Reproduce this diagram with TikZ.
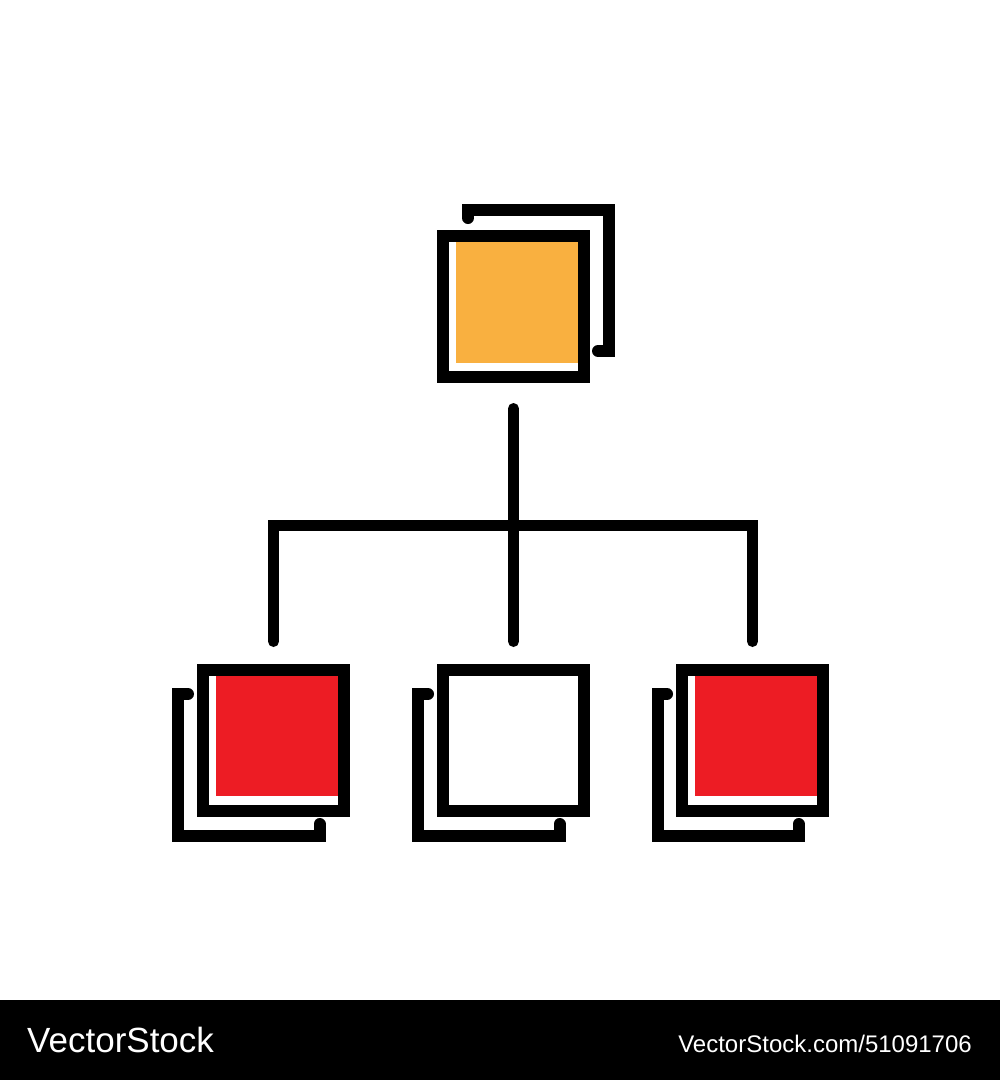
\documentclass[tikz,border=0pt]{standalone}
\usepackage{fontspec}
\usepackage{tikz}
\usetikzlibrary{positioning, calc}
\newfontfamily\stockfont{Liberation Sans}
\definecolor{tileorange}{HTML}{F9B040}
\definecolor{tilered}{HTML}{ED1C24}

\tikzset{
  tile/.style={draw, line width=12pt, minimum size=141pt, inner sep=0pt, outer sep=0pt,
    path picture={\fill[#1] ([xshift=12.5pt,yshift=14.5pt]path picture bounding box.south west)
      rectangle ([xshift=-6pt,yshift=-6pt]path picture bounding box.north east);}},
  backline/.style={line width=12pt, line cap=round},
  wire/.style={line width=11pt, line cap=round}
}

\begin{document}
\begin{tikzpicture}[x=1pt, y=-1pt]
\fill[white] (0,0) rectangle (1000,1080);
\useasboundingbox (0,0) rectangle (1000,1080);

% back sheets
\draw[backline] (468,218) -- (468,210) -- (609,210) -- (609,351) -- (598,351);
\draw[backline] (188,694) -- (178,694) -- (178,835.5) -- (319.5,835.5) -- (319.5,824);
\draw[backline] (428,694) -- (418,694) -- (418,835.5) -- (559.5,835.5) -- (559.5,824);
\draw[backline] (667,694) -- (657.5,694) -- (657.5,835.5) -- (798.5,835.5) -- (798.5,824);

% front sheets
\node (top) at (513.5, 306.5) [tile=tileorange] {};
\node (lf) at (273.5, 740) [tile=tilered] {};
\node (md) at (513.5, 740) [tile=white] {};
\node (rt) at (752.5, 740) [tile=tilered] {};

\coordinate (hub) at (513.5, 525);

\draw[wire, shorten <=31.5pt, shorten >=28pt] (top.south) -- (md.north);
\draw[wire, shorten <=28pt, shorten >=28pt] (lf.north) |- (hub) -| (rt.north);

% footer
\fill[black] (0,1000) rectangle (1000,1080);
\node (brand) at (27, 1052) [anchor=base west, inner sep=0pt, text=white,
  font=\stockfont\fontsize{35}{40}\selectfont] {VectorStock};
\node (ref) at (972, 1052) [anchor=base east, inner sep=0pt, text=white,
  font=\stockfont\fontsize{24}{28}\selectfont] {VectorStock.com/51091706};
\end{tikzpicture}
\end{document}
